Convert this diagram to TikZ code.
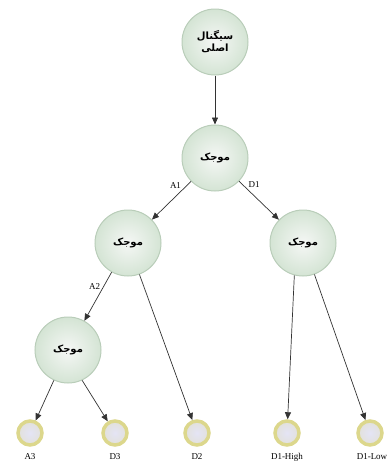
\documentclass[tikz,border=0pt]{standalone}
\usepackage{fontspec}
\setmainfont{Liberation Serif}
\newfontfamily\arabicfont[Script=Arabic]{DejaVu Sans}
\TeXXeTstate=1
\usetikzlibrary{arrows.meta}
\definecolor{nodeedge}{RGB}{185,205,185}
\definecolor{nodein}{RGB}{245,247,245}
\definecolor{nodeout}{RGB}{212,228,212}
\definecolor{leafring}{RGB}{220,215,140}
\definecolor{leafin}{RGB}{228,228,245}
\tikzset{
  wav/.style={circle, minimum size=66pt, inner sep=0pt, draw=nodeedge, line width=1pt,
    inner color=nodein, outer color=nodeout, font=\arabicfont\bfseries\fontsize{10}{12}\selectfont, align=center},
  leaf/.style={circle, minimum size=24pt, inner sep=0pt, draw=leafring, line width=3.5pt,
    inner color=leafin, outer color=leafin!75!leafring},
  leaflbl/.style={font=\fontsize{9}{10}\selectfont, inner sep=0pt},
  edgelbl/.style={font=\fontsize{9}{10}\selectfont, inner sep=1pt},
  conn/.style={draw=black!80, line width=0.7pt, -{Triangle[length=7pt,width=6pt]}}
}
\begin{document}
\begin{tikzpicture}[x=1pt,y=-1pt]
\useasboundingbox (0,0) rectangle (390,464);
\node[wav] (sig) at (215,42) {\beginR سیگنال\endR\\\beginR اصلی\endR};
\node[wav] (w1) at (215,158) {\beginR موجک\endR};
\node[wav] (w2) at (128,243) {\beginR موجک\endR};
\node[wav] (w3) at (303,243) {\beginR موجک\endR};
\node[wav] (w4) at (68,350) {\beginR موجک\endR};
\node[leaf] (a3) at (30,433) {};
\node[leaf] (d3) at (115,433) {};
\node[leaf] (d2) at (197,433) {};
\node[leaf] (d1h) at (287,433) {};
\node[leaf] (d1l) at (370,433) {};
\node[leaflbl] (la3) at (30,457) {A3};
\node[leaflbl] (ld3) at (115,457) {D3};
\node[leaflbl] (ld2) at (197,457) {D2};
\node[leaflbl] (ld1h) at (287,457) {D1-High};
\node[leaflbl] (ld1l) at (372,457) {D1-Low};
\draw[conn] (sig) -- (w1);
\draw[conn] (w1) -- node[edgelbl, pos=0.12, left=4pt] {A1} (w2);
\draw[conn] (w1) -- node[edgelbl, pos=0.08, right=5pt] {D1} (w3);
\draw[conn] (w2) -- node[edgelbl, pos=0.3, left=2pt] {A2} (w4);
\draw[conn] (w2.-70) -- (d2);
\draw[conn] (w3.-105) -- (d1h);
\draw[conn] (w3.-70) -- (d1l);
\draw[conn] (w4.-115) -- (a3);
\draw[conn] (w4.-65) -- (d3);
\end{tikzpicture}
\end{document}
